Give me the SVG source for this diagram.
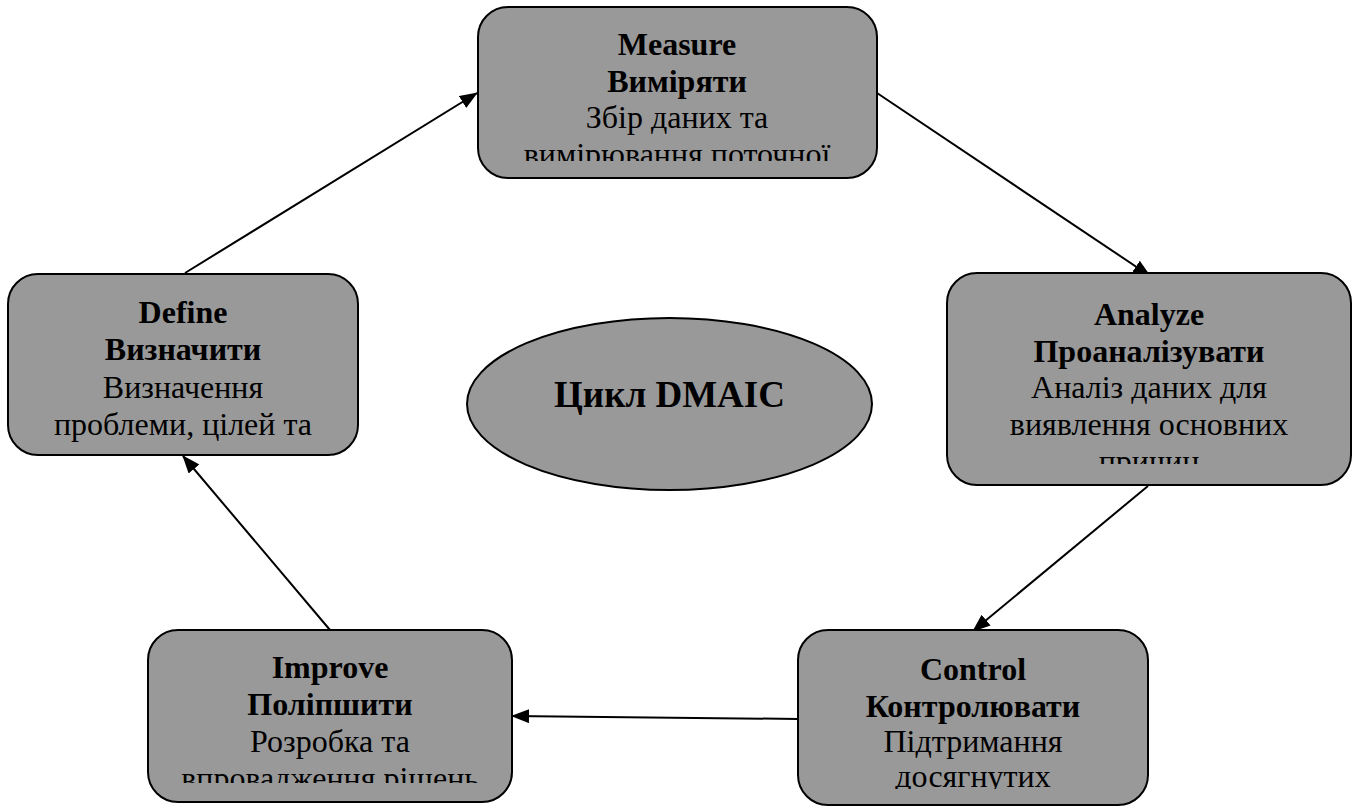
<svg xmlns="http://www.w3.org/2000/svg" width="1355" height="807" viewBox="0 0 1355 807">
<defs>
<style>
.box{fill:#999999;stroke:#000;stroke-width:2}
.t{font-family:"Liberation Serif","Times New Roman",serif;font-size:32px;text-anchor:middle;fill:#000}
.b{font-weight:bold}
.edge{stroke:#000;stroke-width:2;fill:none;marker-end:url(#arr)}
</style>
<marker id="arr" markerUnits="userSpaceOnUse" markerWidth="18" markerHeight="14" viewBox="0 0 18 14" refX="17" refY="7" orient="auto">
<path d="M0,0 L18,7 L0,14 Z" fill="#000"/>
</marker>
<clipPath id="cM"><rect x="478" y="7" width="399" height="154"/></clipPath>
<clipPath id="cA"><rect x="947" y="273" width="404" height="191"/></clipPath>
<clipPath id="cD"><rect x="8" y="274" width="350" height="171"/></clipPath>
<clipPath id="cI"><rect x="148" y="630" width="364" height="153"/></clipPath>
<clipPath id="cC"><rect x="798" y="630" width="350" height="159"/></clipPath>
</defs>
<rect width="1355" height="807" fill="#fff"/>
<g id="connectors">
<line class="edge" x1="185" y1="273" x2="477" y2="93"/>
<line class="edge" x1="877" y1="93" x2="1150" y2="276"/>
<line class="edge" x1="1148" y1="486" x2="973" y2="631"/>
<line class="edge" x1="798" y1="719" x2="512" y2="716"/>
<line class="edge" x1="330" y1="630" x2="183" y2="456"/>
</g>
<g id="measure">
<rect class="box" x="478" y="7" width="399" height="171" rx="30"/>
<g clip-path="url(#cM)">
<text class="t b" x="677" y="55">Measure</text>
<text class="t b" x="677" y="92">Виміряти</text>
<text class="t" x="677" y="128">Збір даних та</text>
<text class="t" x="677" y="165">вимірювання поточної</text>
</g>
</g>
<g id="analyze">
<rect class="box" x="947" y="273" width="404" height="212" rx="30"/>
<g clip-path="url(#cA)">
<text class="t b" x="1149" y="325">Analyze</text>
<text class="t b" x="1149" y="362">Проаналізувати</text>
<text class="t" x="1149" y="398">Аналіз даних для</text>
<text class="t" x="1149" y="435">виявлення основних</text>
<text class="t" x="1149" y="472">причин</text>
</g>
</g>
<g id="define">
<rect class="box" x="8" y="274" width="350" height="181" rx="30"/>
<g clip-path="url(#cD)">
<text class="t b" x="183" y="323">Define</text>
<text class="t b" x="183" y="360">Визначити</text>
<text class="t" x="183" y="398">Визначення</text>
<text class="t" x="183" y="435">проблеми, цілей та</text>
</g>
</g>
<g id="improve">
<rect class="box" x="148" y="630" width="364" height="172" rx="30"/>
<g clip-path="url(#cI)">
<text class="t b" x="330" y="678">Improve</text>
<text class="t b" x="330" y="715">Поліпшити</text>
<text class="t" x="330" y="752">Розробка та</text>
<text class="t" x="330" y="789">впровадження рішень</text>
</g>
</g>
<g id="control">
<rect class="box" x="798" y="630" width="350" height="175" rx="30"/>
<g clip-path="url(#cC)">
<text class="t b" x="973" y="680">Control</text>
<text class="t b" x="973" y="717">Контролювати</text>
<text class="t" x="973" y="752">Підтримання</text>
<text class="t" x="973" y="787">досягнутих</text>
</g>
</g>
<g id="center">
<ellipse class="box" cx="669.5" cy="404" rx="202.5" ry="86"/>
<text class="t b" x="669.5" y="407" style="font-size:37px">Цикл DMAIC</text>
</g>
</svg>
